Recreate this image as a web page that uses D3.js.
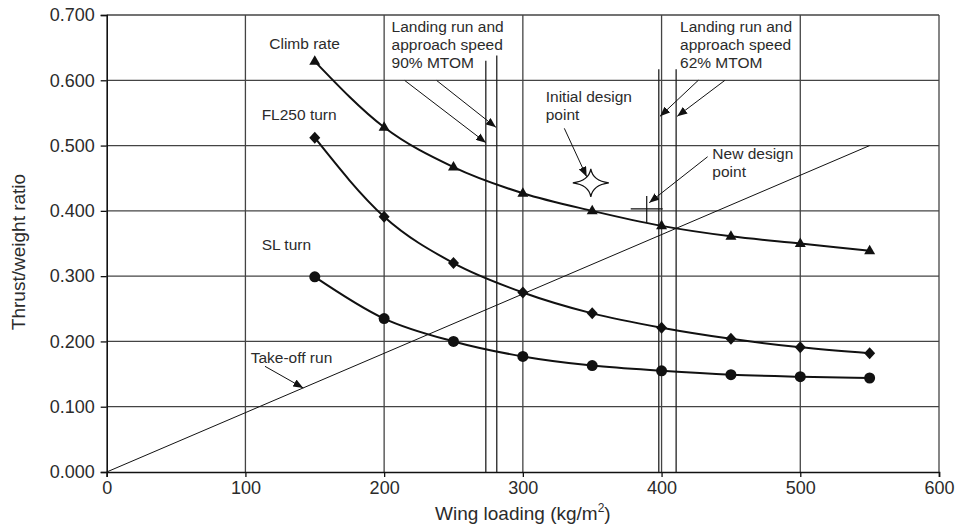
<!DOCTYPE html>
<html>
<head>
<meta charset="utf-8">
<script src="https://cdn.jsdelivr.net/npm/d3@7"></script>
<style>
  html, body { margin: 0; padding: 0; background: #fff; }
  svg { display: block; font-family: "Liberation Sans", Arial, sans-serif; }
</style>
</head>
<body>
<svg id="chart" width="957" height="527"></svg>
<script>
// ---------- data ----------
const wingLoading = [150, 200, 250, 300, 350, 400, 450, 500, 550];
const climbRate   = [0.629, 0.528, 0.467, 0.427, 0.400, 0.377, 0.361, 0.350, 0.339];
const fl250Turn   = [0.512, 0.391, 0.320, 0.275, 0.243, 0.221, 0.204, 0.191, 0.182];
const slTurn      = [0.299, 0.235, 0.200, 0.177, 0.163, 0.155, 0.149, 0.146, 0.144];
const takeOffRun  = [[0, 0], [550, 0.500]];
const landing90   = [[273.3, 0.630], [281.2, 0.638]];   // [wing loading, top of line]
const landing62   = [[398.0, 0.617], [410.5, 0.617]];
const initialDesignPoint = [349, 0.443];
const newDesignPoint     = [389.3, 0.403];
const xTicks = [0, 100, 200, 300, 400, 500, 600];
const yTicks = [0, 0.1, 0.2, 0.3, 0.4, 0.5, 0.6, 0.7];

// ---------- annotations (data units) ----------
const labels = [
  { lines: ["Climb rate"], x: 117.2, y: 0.6486 },
  { lines: ["FL250 turn"], x: 111.7, y: 0.539 },
  { lines: ["SL turn"], x: 111.7, y: 0.340 },
  { lines: ["Landing run and", "approach speed", "90% MTOM"], x: 205.4, y: 0.6735 },
  { lines: ["Landing run and", "approach speed", "62% MTOM"], x: 413.3, y: 0.6735 },
  { lines: ["Initial design", "point"], x: 316.5, y: 0.5671 },
  { lines: ["New design", "point"], x: 436.6, y: 0.4789 },
  { lines: ["Take-off run"], x: 103.8, y: 0.1673 }
];
const arrows = [
  [[214.9, 0.5996], [273.4, 0.5044]],
  [[237.9, 0.5996], [280.6, 0.5279]],
  [[426.5, 0.6000], [398.9, 0.5448]],
  [[445.7, 0.6000], [411.3, 0.5448]],
  [[329.9, 0.5264], [346.0, 0.4523]],
  [[433.2, 0.4829], [391.1, 0.4125]],
  [[114.1, 0.1619], [141.7, 0.1287]]
];

// ---------- layout ----------
const svg = d3.select("#chart");
const L = 106.7, R = 939, T = 15, B = 472;
const x = d3.scaleLinear().domain([0, 600]).range([L, R]);
const y = d3.scaleLinear().domain([0, 0.7]).range([B, T]);
const ink = "#111";
const textInk = "#2b2b2b";

svg.append("defs").append("marker")
  .attr("id", "arrow").attr("markerUnits", "userSpaceOnUse")
  .attr("viewBox", "0 0 10 8").attr("refX", 10).attr("refY", 4)
  .attr("markerWidth", 10).attr("markerHeight", 8).attr("orient", "auto")
  .append("path").attr("d", "M0,0 L10,4 L0,8 Z").attr("fill", ink);

// grid
const grid = svg.append("g");
grid.selectAll(".vg").data(xTicks.slice(1)).enter().append("line")
  .attr("x1", d => x(d)).attr("x2", d => x(d)).attr("y1", y(0.7)).attr("y2", y(0))
  .attr("stroke", "#444").attr("stroke-width", 1.3);
grid.selectAll(".hg").data(yTicks.slice(1)).enter().append("line")
  .attr("x1", x(0)).attr("x2", x(600)).attr("y1", d => y(d)).attr("y2", d => y(d))
  .attr("stroke", "#444").attr("stroke-width", 1.3);

// axes
const xAxis = d3.axisBottom(x).tickValues(xTicks).tickSize(5).tickPadding(4).tickFormat(d3.format("d"));
const yAxis = d3.axisLeft(y).tickValues(yTicks).tickSize(6).tickPadding(6).tickFormat(d3.format(".3f"));
const gx = svg.append("g").attr("transform", `translate(0,${B})`).call(xAxis);
const gy = svg.append("g").attr("transform", `translate(${L},0)`).call(yAxis);
[gx, gy].forEach(g => {
  g.select(".domain").attr("stroke", ink).attr("stroke-width", 1.6);
  g.selectAll(".tick line").attr("stroke", ink).attr("stroke-width", 1.3);
  g.selectAll(".tick text").attr("fill", textInk).attr("font-size", 18)
    .attr("font-family", "Liberation Sans, Arial, sans-serif");
});
gy.select(".tick:last-of-type line").attr("stroke", ink);

// axis titles
const xt = svg.append("text").attr("x", (L + R) / 2).attr("y", 520)
  .attr("text-anchor", "middle").attr("font-size", 19).attr("fill", textInk);
xt.append("tspan").text("Wing loading (kg/m");
xt.append("tspan").text("2").attr("font-size", 12).attr("dy", -8);
xt.append("tspan").text(")").attr("dy", 8);
svg.append("text").attr("transform", "translate(25,252) rotate(-90)")
  .attr("text-anchor", "middle").attr("font-size", 19).attr("fill", textInk)
  .text("Thrust/weight ratio");

// landing lines
const vlines = landing90.concat(landing62);
svg.selectAll(".land").data(vlines).enter().append("line")
  .attr("x1", d => x(d[0])).attr("x2", d => x(d[0]))
  .attr("y1", d => y(d[1])).attr("y2", y(0))
  .attr("stroke", "#222").attr("stroke-width", 1.3);

// take-off run
svg.append("line")
  .attr("x1", x(takeOffRun[0][0])).attr("y1", y(takeOffRun[0][1]))
  .attr("x2", x(takeOffRun[1][0])).attr("y2", y(takeOffRun[1][1]))
  .attr("stroke", ink).attr("stroke-width", 1);

// curves
const line = d3.line().x(d => x(d[0])).y(d => y(d[1])).curve(d3.curveMonotoneX);
const series = [
  { vals: climbRate, shape: "tri" },
  { vals: fl250Turn, shape: "dia" },
  { vals: slTurn, shape: "cir" }
];
series.forEach(s => {
  const pts = wingLoading.map((w, i) => [w, s.vals[i]]);
  svg.append("path").datum(pts).attr("d", line)
    .attr("fill", "none").attr("stroke", ink).attr("stroke-width", 2);
  const g = svg.append("g");
  pts.forEach(p => {
    const cx = x(p[0]), cy = y(p[1]);
    if (s.shape === "tri") {
      g.append("path").attr("d", `M${cx},${cy - 6} L${cx + 5.5},${cy + 3.5} L${cx - 5.5},${cy + 3.5} Z`).attr("fill", ink);
    } else if (s.shape === "dia") {
      g.append("path").attr("d", `M${cx},${cy - 6} L${cx + 5.5},${cy} L${cx},${cy + 6} L${cx - 5.5},${cy} Z`).attr("fill", ink);
    } else {
      g.append("circle").attr("cx", cx).attr("cy", cy).attr("r", 5.5).attr("fill", ink);
    }
  });
});

// design points
{
  const cx = x(initialDesignPoint[0]), cy = y(initialDesignPoint[1]);
  svg.append("path")
    .attr("d", `M${cx},${cy - 14} Q${cx + 2},${cy - 2} ${cx + 18},${cy} Q${cx + 2},${cy + 2} ${cx},${cy + 14} Q${cx - 2},${cy + 2} ${cx - 18},${cy} Q${cx - 2},${cy - 2} ${cx},${cy - 14} Z`)
    .attr("fill", "#fff").attr("stroke", ink).attr("stroke-width", 1.2);
}
{
  const cx = x(newDesignPoint[0]), cy = y(newDesignPoint[1]);
  svg.append("line").attr("x1", cx - 16).attr("x2", cx + 16).attr("y1", cy).attr("y2", cy)
    .attr("stroke", ink).attr("stroke-width", 1.2);
  svg.append("line").attr("x1", cx).attr("x2", cx).attr("y1", cy - 13).attr("y2", cy + 13)
    .attr("stroke", ink).attr("stroke-width", 1.2);
}

// arrows
svg.selectAll(".arr").data(arrows).enter().append("line")
  .attr("x1", d => x(d[0][0])).attr("y1", d => y(d[0][1]))
  .attr("x2", d => x(d[1][0])).attr("y2", d => y(d[1][1]))
  .attr("stroke", ink).attr("stroke-width", 1).attr("marker-end", "url(#arrow)");

// labels
labels.forEach(l => {
  const t = svg.append("text").attr("x", x(l.x)).attr("y", y(l.y))
    .attr("font-size", 15.5).attr("fill", textInk);
  l.lines.forEach((s, i) => {
    t.append("tspan").attr("x", x(l.x)).attr("dy", i === 0 ? 0 : 18).text(s);
  });
});
</script>
</body>
</html>
